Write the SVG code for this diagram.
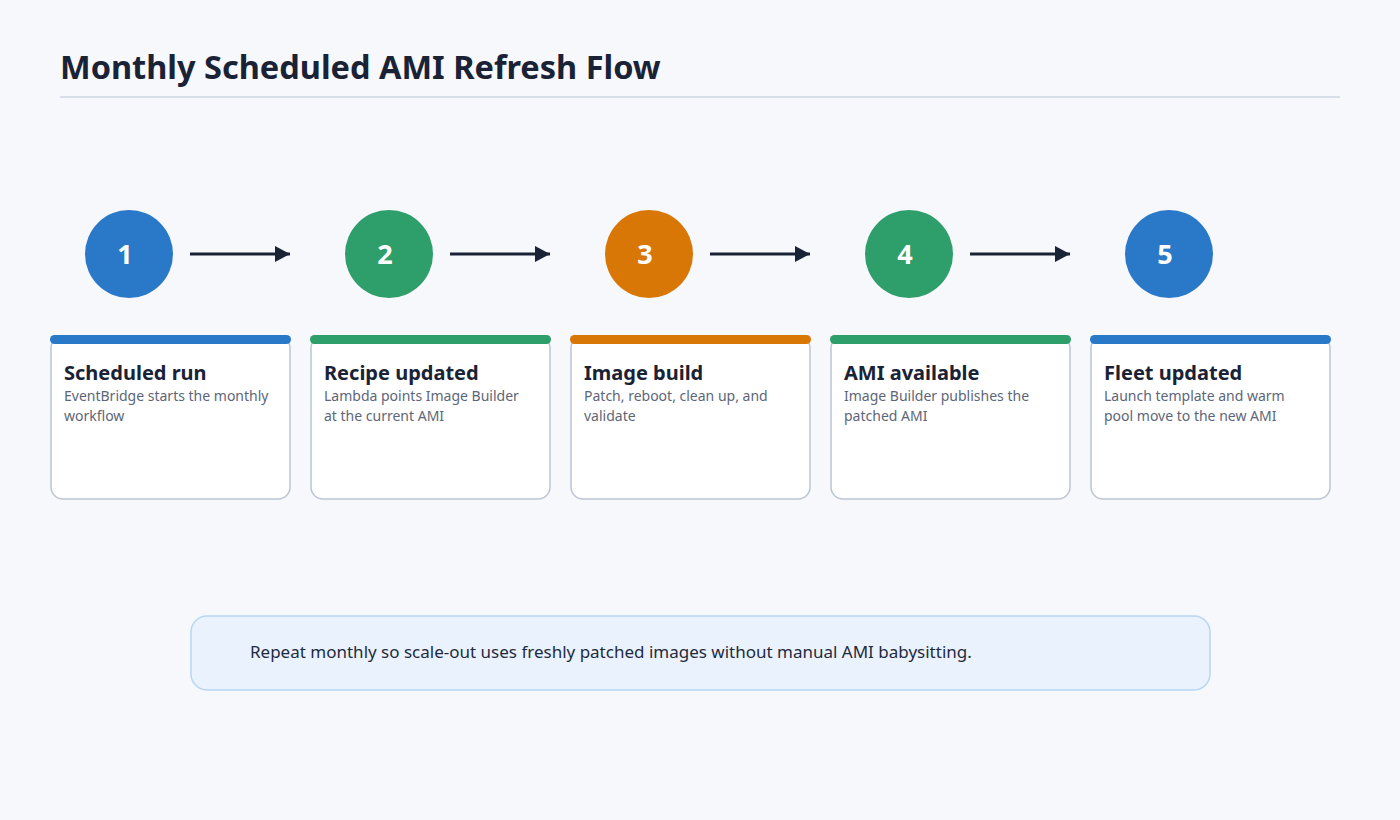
<svg xmlns="http://www.w3.org/2000/svg" width="1400" height="820" viewBox="0 0 1400 820">
<defs>
<style>
.bg{fill:#f6f8fc}
.title{font-family:"Segoe UI","Noto Sans","Open Sans",sans-serif;font-size:32.5px;font-weight:700;fill:#1a2236}
.num{font-family:"Segoe UI","Noto Sans","Open Sans",sans-serif;font-size:27px;font-weight:700;fill:#ffffff;text-anchor:middle}
.card{fill:#ffffff;stroke:#bcc5d2;stroke-width:1.5}
.ct{font-family:"Segoe UI","Noto Sans","Open Sans",sans-serif;font-size:20px;font-weight:700;fill:#1a2236}
.cd{font-family:"Segoe UI","Noto Sans","Open Sans",sans-serif;font-size:14px;fill:#5d6678}
.blue{fill:#2a78c8}
.green{fill:#2e9e6a}
.orange{fill:#d97706}
.conn{stroke:#1a2236;stroke-width:3;fill:none}
.note{fill:#eaf2fe;stroke:#b7d6f5;stroke-width:1.5}
.nt{font-family:"Segoe UI","Noto Sans","Open Sans",sans-serif;font-size:17px;fill:#1f2a3d}
</style>
<marker id="arr" markerWidth="16" markerHeight="16" refX="15" refY="8" orient="auto" markerUnits="userSpaceOnUse">
<path d="M0,0 L15,8 L0,16 Z" fill="#1a2236"/>
</marker>
</defs>
<rect class="bg" x="0" y="0" width="1400" height="820"/>
<text class="title" x="60" y="79">Monthly Scheduled AMI Refresh Flow</text>
<line x1="60" y1="97" x2="1340" y2="97" stroke="#d8dee8" stroke-width="2"/>

<g id="connectors">
<line class="conn" x1="190" y1="254" x2="290" y2="254" marker-end="url(#arr)"/>
<line class="conn" x1="450" y1="254" x2="550" y2="254" marker-end="url(#arr)"/>
<line class="conn" x1="710" y1="254" x2="810" y2="254" marker-end="url(#arr)"/>
<line class="conn" x1="970" y1="254" x2="1070" y2="254" marker-end="url(#arr)"/>
</g>

<g id="step1">
<circle class="blue" cx="129" cy="254" r="44"/>
<text class="num" x="125" y="264">1</text>
<rect class="card" x="51" y="336" width="239" height="163" rx="12"/>
<rect class="blue" x="50" y="335" width="241" height="9" rx="4.5"/>
<text class="ct" x="64" y="380">Scheduled run</text>
<text class="cd" x="64" y="401">EventBridge starts the monthly</text>
<text class="cd" x="64" y="421">workflow</text>
</g>

<g id="step2">
<circle class="green" cx="389" cy="254" r="44"/>
<text class="num" x="385" y="264">2</text>
<rect class="card" x="311" y="336" width="239" height="163" rx="12"/>
<rect class="green" x="310" y="335" width="241" height="9" rx="4.5"/>
<text class="ct" x="324" y="380">Recipe updated</text>
<text class="cd" x="324" y="401">Lambda points Image Builder</text>
<text class="cd" x="324" y="421">at the current AMI</text>
</g>

<g id="step3">
<circle class="orange" cx="649" cy="254" r="44"/>
<text class="num" x="645" y="264">3</text>
<rect class="card" x="571" y="336" width="239" height="163" rx="12"/>
<rect class="orange" x="570" y="335" width="241" height="9" rx="4.5"/>
<text class="ct" x="584" y="380">Image build</text>
<text class="cd" x="584" y="401">Patch, reboot, clean up, and</text>
<text class="cd" x="584" y="421">validate</text>
</g>

<g id="step4">
<circle class="green" cx="909" cy="254" r="44"/>
<text class="num" x="905" y="264">4</text>
<rect class="card" x="831" y="336" width="239" height="163" rx="12"/>
<rect class="green" x="830" y="335" width="241" height="9" rx="4.5"/>
<text class="ct" x="844" y="380">AMI available</text>
<text class="cd" x="844" y="401">Image Builder publishes the</text>
<text class="cd" x="844" y="421">patched AMI</text>
</g>

<g id="step5">
<circle class="blue" cx="1169" cy="254" r="44"/>
<text class="num" x="1165" y="264">5</text>
<rect class="card" x="1091" y="336" width="239" height="163" rx="12"/>
<rect class="blue" x="1090" y="335" width="241" height="9" rx="4.5"/>
<text class="ct" x="1104" y="380">Fleet updated</text>
<text class="cd" x="1104" y="401">Launch template and warm</text>
<text class="cd" x="1104" y="421">pool move to the new AMI</text>
</g>

<g id="note">
<rect class="note" x="191" y="616" width="1019" height="74" rx="16"/>
<text class="nt" x="250" y="658">Repeat monthly so scale-out uses freshly patched images without manual AMI babysitting.</text>
</g>
</svg>
